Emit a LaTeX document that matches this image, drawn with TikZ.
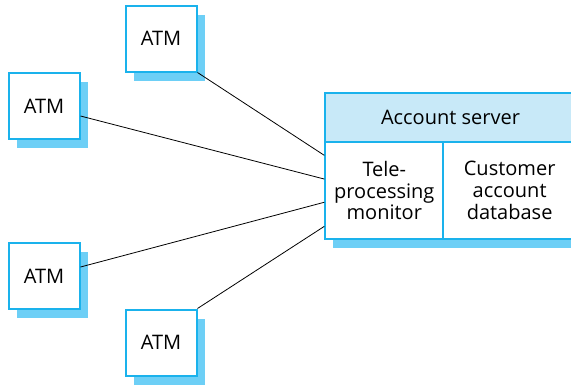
\documentclass[tikz,border=0pt]{standalone}
\usepackage{fontspec}
\setmainfont{Open Sans}
\usetikzlibrary{shadows,calc}
\definecolor{bord}{HTML}{1AB2EC}
\definecolor{shad}{HTML}{6DCFF6}
\definecolor{head}{HTML}{C8E9F8}
\begin{document}
\begin{tikzpicture}[x=1pt,y=-1pt,
  txt/.style={font=\fontsize{20}{21.7}\selectfont},
  atm/.style={txt,draw=bord,line width=2pt,fill=white,minimum width=71pt,minimum height=66pt,inner sep=0pt,
    drop shadow={shadow xshift=8pt,shadow yshift=-9pt,fill=shad,opacity=1}},
  cell/.style={txt,draw=bord,line width=2pt,inner sep=0pt,align=center},
  conn/.style={draw=black,line width=0.8pt}]
\useasboundingbox (0,0) rectangle (571,384);
\clip (0,0) rectangle (571,384);
% ATMs
\node[atm] (a1) at (161,38.5) {ATM};
\node[atm] (a2) at (44,106) {ATM};
\node[atm] (a3) at (44,276) {ATM};
\node[atm] (a4) at (161,342.5) {ATM};
% server
\node[cell,minimum width=251pt,minimum height=146pt,
  drop shadow={shadow xshift=8pt,shadow yshift=-9pt,fill=shad,opacity=1},fill=white] (srv) at (450.5,166.3) {};
\node[cell,fill=head,minimum width=251pt,minimum height=48.4pt] (hd) at (450.5,117.5) {Account server};
\node[cell,fill=white,minimum width=118pt,minimum height=97.6pt] (tp) at (384.3,190.5) {Tele-\\processing\\monitor};
\node[cell,fill=white,minimum width=132.7pt,minimum height=97.6pt] (db) at (509.65,190.5) {Customer\\account\\database};
% connectors
\draw[conn] (a1.south east) -- ($(tp.north west)!0.147!(tp.south west)$);
\draw[conn] ($(a2.east)+(0,10)$) -- ($(tp.north west)!0.385!(tp.south west)$);
\draw[conn] ($(a3.east)+(0,-9)$) -- ($(tp.north west)!0.618!(tp.south west)$);
\draw[conn] (a4.north east) -- ($(tp.north west)!0.86!(tp.south west)$);
\end{tikzpicture}
\end{document}
